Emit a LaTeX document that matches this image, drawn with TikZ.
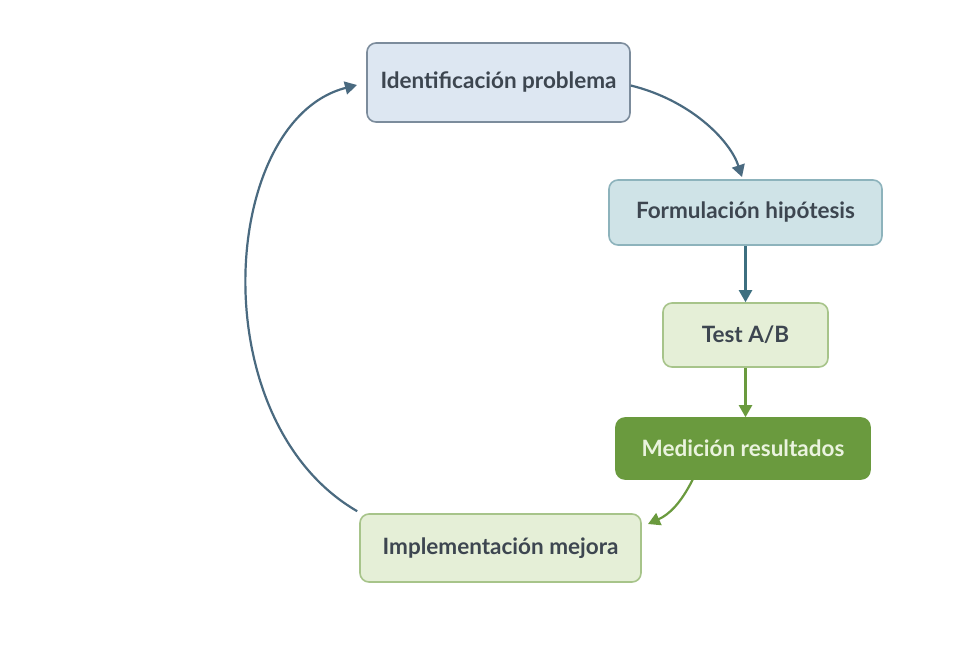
\documentclass[tikz,border=0pt]{standalone}
\usepackage{fontspec}
\setmainfont{Lato}[UprightFont=* Bold]
\usetikzlibrary{arrows.meta}
\definecolor{txt}{HTML}{3D4650}
\definecolor{bluefill}{HTML}{DDE7F2}
\definecolor{blueline}{HTML}{7C8C9C}
\definecolor{tealfill}{HTML}{CFE3E7}
\definecolor{tealline}{HTML}{8DB3BC}
\definecolor{lgfill}{HTML}{E5EFD7}
\definecolor{lgline}{HTML}{A7C48A}
\definecolor{dgreen}{HTML}{6A9A3E}
\definecolor{dgtext}{HTML}{EAF3DE}
\definecolor{arrblue}{HTML}{4A6A80}
\definecolor{arrteal}{HTML}{3D6F80}
\tikzset{
  x=1pt, y=-1pt,
  box/.style={draw, line width=1.6pt, rounded corners=9pt, font=\fontsize{22.5}{26}\selectfont, text=txt, inner sep=0pt},
  conn/.style={line width=2.2pt, -{Triangle[length=12pt,width=13pt]}},
}
\begin{document}
\begin{tikzpicture}
\useasboundingbox (0,0) rectangle (977,656);
\fill[white] (0,0) rectangle (977,656);
\node[box, fill=bluefill, draw=blueline, minimum width=263pt, minimum height=79pt] (ident) at (498.5,82.5) {Identificación problema};
\node[box, fill=tealfill, draw=tealline, minimum width=273pt, minimum height=65pt] (form) at (745.5,212.5) {Formulación hipótesis};
\node[box, fill=lgfill, draw=lgline, minimum width=165pt, minimum height=64pt] (test) at (745.5,335) {Test A/B};
\node[box, fill=dgreen, draw=dgreen, text=dgtext, minimum width=254pt, minimum height=61pt] (med) at (743,448.5) {Medición resultados};
\node[box, fill=lgfill, draw=lgline, minimum width=281pt, minimum height=68pt] (impl) at (500.5,548) {Implementación mejora};
\draw[conn, arrblue] (ident.east) ++(0,3) .. controls (690,100) and (730,140) .. (742,177);
\draw[conn, arrteal] (form.south) -- (test.north);
\draw[conn, dgreen] (test.south) -- (test.south |- med.north);
\draw[conn, dgreen] (693,479) .. controls (680,505) and (668,515) .. (648,524);
\draw[conn, arrblue] (impl.north west) ++(-2,-2) .. controls (200,420) and (220,120) .. (357,85);
\end{tikzpicture}
\end{document}
